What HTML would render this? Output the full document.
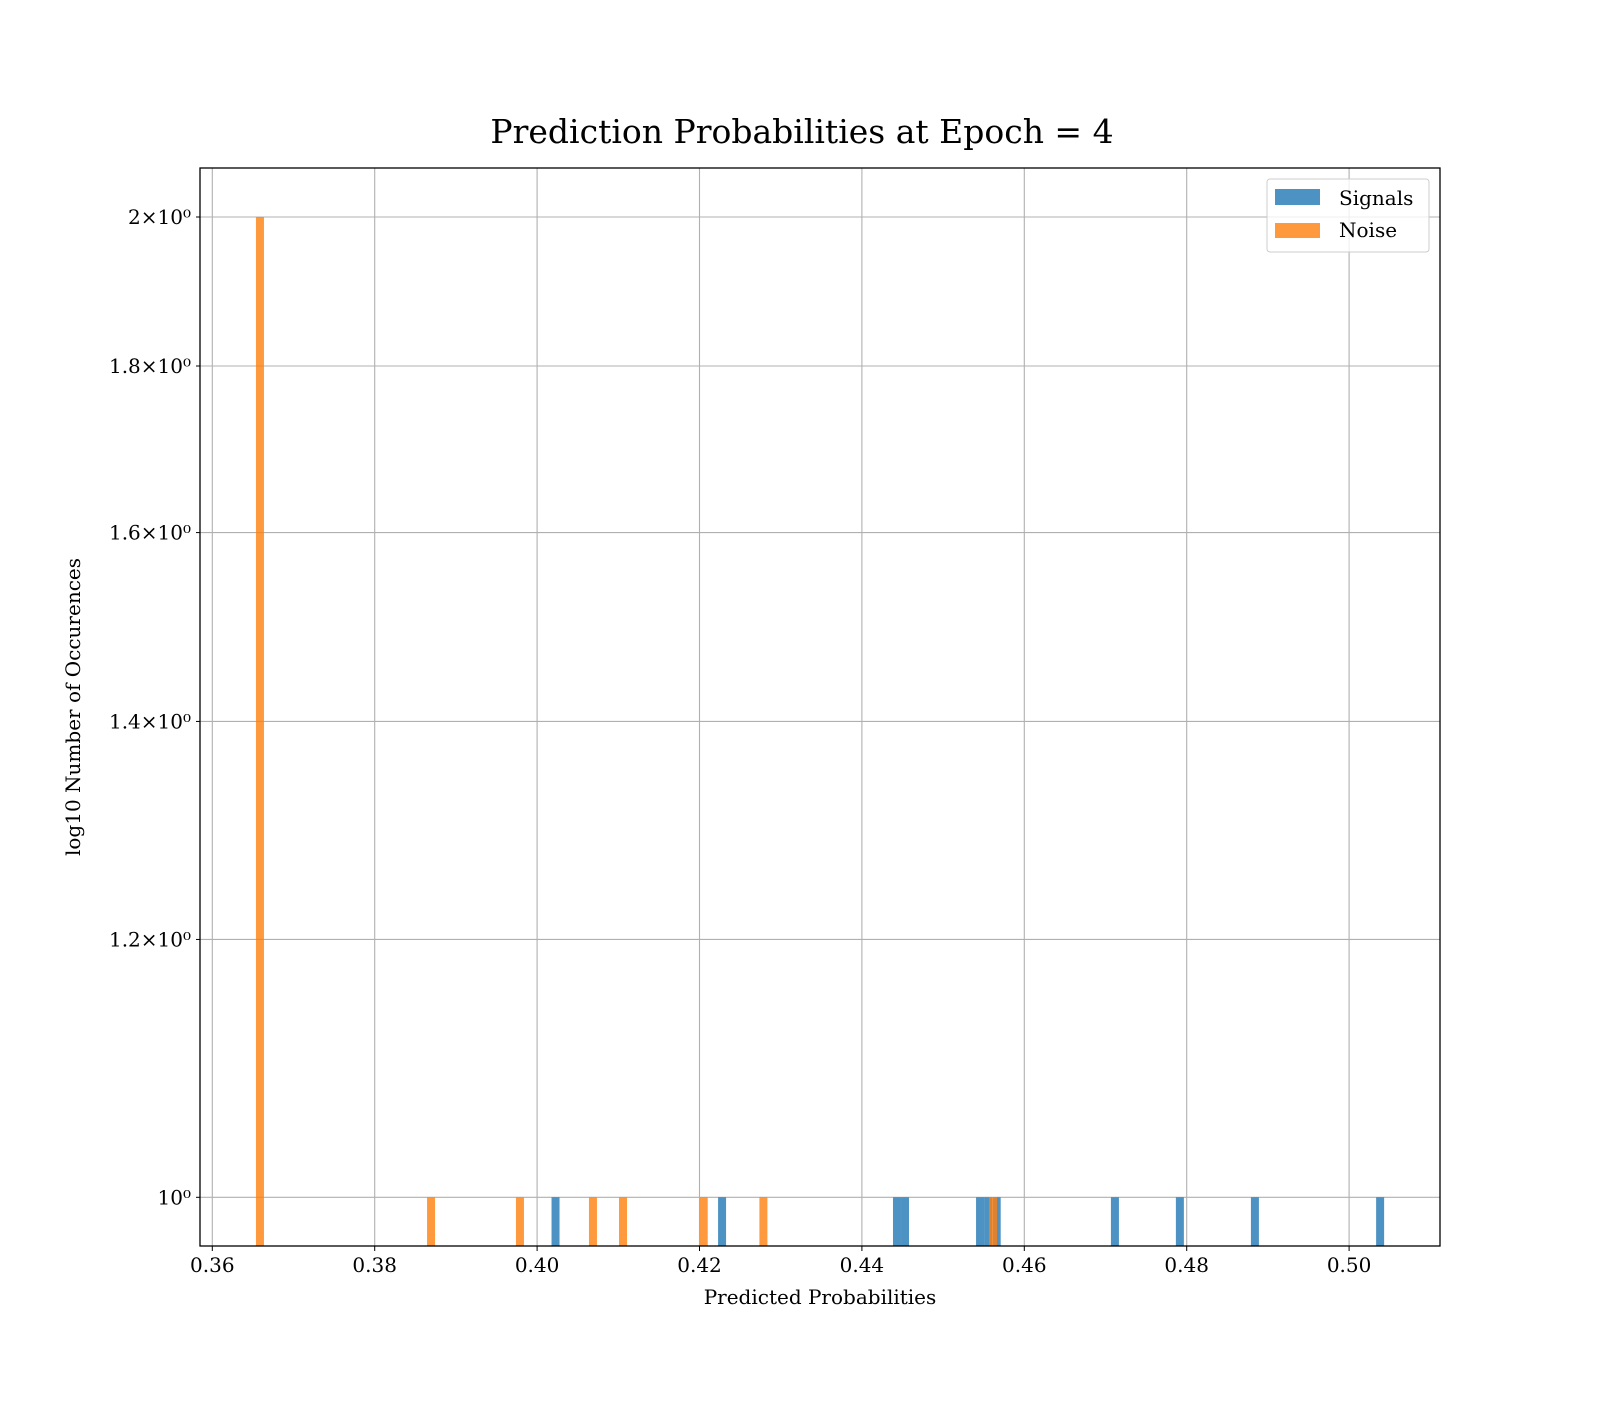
<!DOCTYPE html>
<html><head><meta charset="utf-8"><style>
body{margin:0;background:#fff}
svg text{font-family:"DejaVu Serif","Liberation Serif",serif;fill:#000}
</style></head><body>
<svg width="1600" height="1400" xmlns="http://www.w3.org/2000/svg">
<text x="802" y="143" font-size="33" text-anchor="middle">Prediction Probabilities at Epoch = 4</text>
<g id="grid"></g>
<g id="bars"></g>
<rect x="200" y="168" width="1240" height="1078" fill="none" stroke="#000" stroke-width="1.3"/>
<g id="ticks"></g>
<text x="820" y="1304" font-size="20" text-anchor="middle">Predicted Probabilities</text>
<text transform="translate(80,707) rotate(-90)" font-size="20" text-anchor="middle">log10 Number of Occurences</text>
<g>
<rect x="1267" y="179" width="162" height="73" rx="3" fill="#fff" fill-opacity="0.8" stroke="#ccc"/>
<rect x="1275" y="189" width="45" height="16" fill="#1f77b4" fill-opacity="0.8"/>
<text x="1339" y="205" font-size="20">Signals</text>
<rect x="1275" y="223" width="45" height="15" fill="#ff7f0e" fill-opacity="0.8"/>
<text x="1339" y="237" font-size="20">Noise</text>
</g>
</svg>
<script>
const binWidth = 0.000985;
const signalCenters = [0.40227, 0.42278, 0.44432, 0.44531, 0.45455, 0.45554, 0.45660, 0.47116, 0.47916, 0.48840, 0.50382];
const signalCounts = [1,1,1,1,1,1,1,1,1,1,1];
const noiseCenters = [0.36587, 0.38694, 0.39789, 0.40688, 0.41058, 0.42052, 0.42787, 0.45615];
const noiseCounts = [2,1,1,1,1,1,1,1];
const xTicks = [0.36,0.38,0.40,0.42,0.44,0.46,0.48,0.50];
const yTicks = [1,1.2,1.4,1.6,1.8,2];
const yTickLabels = ["10\u2070","1.2\u00d710\u2070","1.4\u00d710\u2070","1.6\u00d710\u2070","1.8\u00d710\u2070","2\u00d710\u2070"];
const NS='http://www.w3.org/2000/svg';
const L=200,R=1440,T=168,B=1246;
function xs(v){return 212.3+(v-0.36)*8120;}
function ys(v){return 1197.3-Math.log10(v)*3256.5;}
const grid=document.getElementById('grid'),bars=document.getElementById('bars'),ticks=document.getElementById('ticks');
function mk(tag,attrs,parent){const e=document.createElementNS(NS,tag);for(const k in attrs)e.setAttribute(k,attrs[k]);parent.appendChild(e);return e;}
xTicks.forEach((t,i)=>{
  const x=xs(t);
  const g=mk('line',{x1:x,x2:x,y1:T,y2:B,stroke:'#b0b0b0','stroke-width':1.1},grid);
  
  
  const tk=mk('line',{x1:x,x2:x,y1:B,y2:B+5,stroke:'#000'},ticks);
  
  
  const tx=mk('text',{x:x,y:B+26,'font-size':20,'text-anchor':'middle'},ticks);
  tx.textContent=t.toFixed(2);
  
  
});
yTicks.forEach((t,i)=>{
  const y=ys(t);
  const g=mk('line',{x1:L,x2:R,y1:y,y2:y,stroke:'#b0b0b0','stroke-width':1.1},grid);
  
  
  const tk=mk('line',{x1:L-4,x2:L,y1:y,y2:y,stroke:'#000'},ticks);
  
  
  const tx=mk('text',{x:L-9,y:y+7,'font-size':20,'text-anchor':'end'},ticks);
  tx.textContent=yTickLabels[i];
  
  
});
function drawSeries(centers,counts,color,name){
  centers.forEach((c,i)=>{
    const x0=xs(c-binWidth/2),x1=xs(c+binWidth/2),y=ys(counts[i]);
    const r=mk('rect',{x:x0,y:y,width:x1-x0,height:B-y,fill:color,'fill-opacity':0.8},bars);
    
    
  });
}
drawSeries(signalCenters,signalCounts,'#1f77b4','signal-bar');
drawSeries(noiseCenters,noiseCounts,'#ff7f0e','noise-bar');
</script>
</body></html>
